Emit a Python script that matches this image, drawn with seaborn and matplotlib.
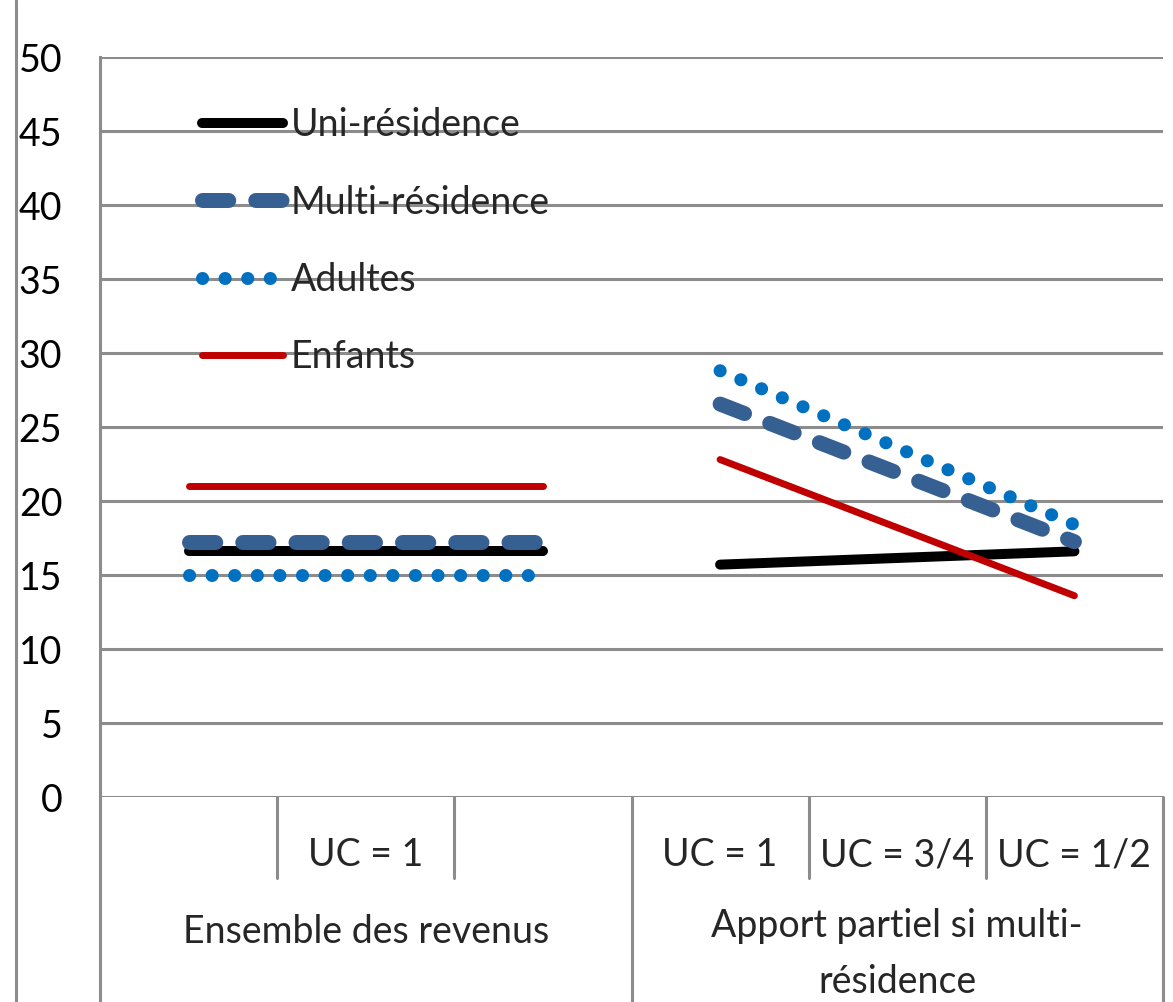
import pandas as pd
import seaborn as sns
import matplotlib.pyplot as plt
from matplotlib.lines import Line2D

# Values (6 category slots, two groups)
positions = [0, 1, 2, 3, 4, 5]
groupes = ["ens", "ens", "ens", "apport", "apport", "apport"]
tick_labels = ["", "UC = 1", "", "UC = 1", "UC = 3/4", "UC = 1/2"]
uni = [16.6, 16.6, 16.6, 15.7, 16.15, 16.6]
multi = [17.2, 17.2, 17.2, 26.55, 21.9, 17.25]
adultes = [15.0, 15.0, 15.0, 28.8, 23.6, 18.4]
enfants = [21.0, 21.0, 21.0, 22.8, 18.2, 13.6]
group_labels = ["Ensemble des revenus", "Apport partiel si multi-\nrésidence"]

sns.set_style("white")
plt.rcParams["font.family"] = ["Lato", "DejaVu Sans"]
fs = 27

fig = plt.figure(figsize=(11.73, 10.02), dpi=100)
ax = fig.add_axes([100 / 1173, 205 / 1002, 1063 / 1173, 740 / 1002])

grid_col = "#8c8c8c"
series = [
    ("Uni-résidence", uni, "black", 7.2, "-"),
    ("Multi-résidence", multi, "#376092", 10.8, (0, (1.75, 1.8))),
    ("Adultes", adultes, "#0070c0", 9.4, (0, (0.01, 1.72))),
    ("Enfants", enfants, "#c00000", 5.0, "-"),
]
# draw in an order so that black sits under the dashes like the reference
draw_order = [0, 3, 1, 2]
for i in draw_order:
    name, vals, col, lw, ls = series[i]
    df = pd.DataFrame({"pos": positions, "val": vals, "groupe": groupes})
    sns.lineplot(data=df, x="pos", y="val", units="groupe", estimator=None,
                 color=col, linewidth=lw, linestyle=ls, ax=ax,
                 solid_capstyle="round", dash_capstyle="round")

ax.set_xlim(-0.5, 5.5)
ax.set_ylim(0, 50)
ax.set_yticks(range(0, 51, 5))
ax.set_xticks([])
ax.set_xlabel("")
ax.set_ylabel("")
ax.yaxis.grid(True, color=grid_col, linewidth=2.2)
ax.set_axisbelow(True)
for s in ["top", "right", "bottom"]:
    ax.spines[s].set_visible(False)
ax.spines["left"].set_color(grid_col)
ax.spines["left"].set_linewidth(2.2)
ax.tick_params(axis="y", length=8.6, width=2.2, color=grid_col, pad=18.5,
               labelsize=fs, labelcolor="black")

# category axis: separators and labels below the plot
tr = ax.get_xaxis_transform()
for x in [0.5, 1.5, 3.5, 4.5]:
    ax.plot([x, x], [0, -81 / 740], color=grid_col, lw=2.2, clip_on=False, transform=tr)
for x in [-0.5, 2.5, 5.5]:
    ax.plot([x, x], [0, -210 / 740], color=grid_col, lw=2.2, clip_on=False, transform=tr)
for p, lab in zip(positions, tick_labels):
    ax.text(p, -58 / 740, lab, transform=tr, ha="center", va="center", fontsize=fs)
ax.text(1, -135 / 740, group_labels[0], transform=tr, ha="center", va="center", fontsize=fs)
ax.text(4, -157 / 740, group_labels[1], transform=tr, ha="center", va="center",
        fontsize=fs, linespacing=1.7)

# outer chart border on the left
fig.add_artist(Line2D([16 / 1173, 16 / 1173], [0, 1], color=grid_col, lw=2.2))

handles = [Line2D([], [], color=c, lw=lw, ls=ls, solid_capstyle="round",
                  dash_capstyle="round") for _, _, c, lw, ls in series]
ax.legend(handles, [s[0] for s in series], loc="upper left",
          bbox_to_anchor=(0.096, 0.932), frameon=False, fontsize=fs,
          handlelength=2.15, handletextpad=0.22, labelspacing=1.1,
          borderpad=0, borderaxespad=0)

fig.savefig("out.png", dpi=100)
